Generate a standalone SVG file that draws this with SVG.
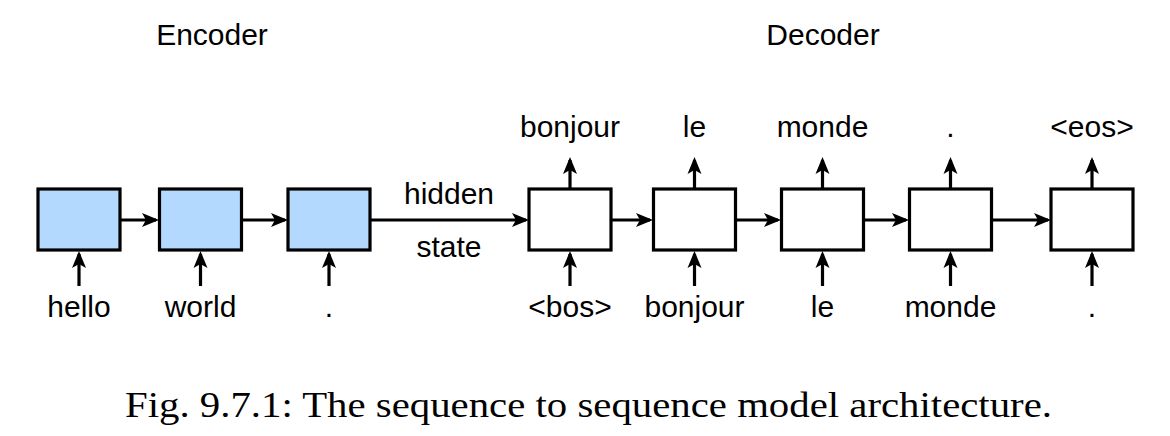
<svg xmlns="http://www.w3.org/2000/svg" width="1170" height="436" viewBox="0 0 1170 436">
<style>
.box{stroke:#000;stroke-width:3.2}
.enc{fill:#b3d9ff}
.dec{fill:#fff}
.lbl{font-family:"Liberation Sans",Arial,sans-serif;font-size:30px;fill:#000;text-anchor:middle}
.cap{font-family:"Liberation Serif","DejaVu Serif",serif;font-size:36px;fill:#000}
.edge{stroke:#000;stroke-width:3.2;fill:none;marker-end:url(#ah)}
</style>
<defs>
<marker id="ah" markerUnits="userSpaceOnUse" markerWidth="22" markerHeight="18" viewBox="-20 -9 22 18" refX="-3" refY="0" orient="auto">
<path d="M0,0 L-17,-7 L-13,0 L-17,7 Z" fill="#000"/>
</marker>
</defs>
<rect width="1170" height="436" fill="#fff"/>
<text class="lbl" x="212" y="45">Encoder</text>
<text class="lbl" x="823" y="45">Decoder</text>
<g id="connectors">
<line class="edge" x1="120" y1="220" x2="156" y2="220"/>
<line class="edge" x1="242" y1="220" x2="285" y2="220"/>
<line class="edge" x1="370" y1="220" x2="526" y2="220"/>
<line class="edge" x1="611" y1="220" x2="650" y2="220"/>
<line class="edge" x1="736" y1="220" x2="778" y2="220"/>
<line class="edge" x1="864" y1="220" x2="906" y2="220"/>
<line class="edge" x1="992" y1="220" x2="1048" y2="220"/>
<line class="edge" x1="79" y1="286" x2="79" y2="254"/>
<line class="edge" x1="200.5" y1="286" x2="200.5" y2="254"/>
<line class="edge" x1="329" y1="286" x2="329" y2="254"/>
<line class="edge" x1="570" y1="286" x2="570" y2="254"/>
<line class="edge" x1="694.5" y1="286" x2="694.5" y2="254"/>
<line class="edge" x1="822.5" y1="286" x2="822.5" y2="254"/>
<line class="edge" x1="950.5" y1="286" x2="950.5" y2="254"/>
<line class="edge" x1="1092" y1="286" x2="1092" y2="254"/>
<line class="edge" x1="570" y1="189" x2="570" y2="160"/>
<line class="edge" x1="694.5" y1="189" x2="694.5" y2="160"/>
<line class="edge" x1="822.5" y1="189" x2="822.5" y2="160"/>
<line class="edge" x1="950.5" y1="189" x2="950.5" y2="160"/>
<line class="edge" x1="1092" y1="189" x2="1092" y2="160"/>
</g>
<text class="lbl" x="449" y="204">hidden</text>
<text class="lbl" x="449" y="257">state</text>
<g id="enc1"><rect class="box enc" x="38" y="189" width="82" height="61"/><text class="lbl" x="79" y="317">hello</text></g>
<g id="enc2"><rect class="box enc" x="159.5" y="189" width="82" height="61"/><text class="lbl" x="200.5" y="317">world</text></g>
<g id="enc3"><rect class="box enc" x="288" y="189" width="82" height="61"/><text class="lbl" x="329" y="317">.</text></g>
<g id="dec1"><rect class="box dec" x="529" y="189" width="82" height="61"/><text class="lbl" x="570" y="137">bonjour</text><text class="lbl" x="570" y="317">&lt;bos&gt;</text></g>
<g id="dec2"><rect class="box dec" x="653.5" y="189" width="82" height="61"/><text class="lbl" x="694.5" y="137">le</text><text class="lbl" x="694.5" y="317">bonjour</text></g>
<g id="dec3"><rect class="box dec" x="781.5" y="189" width="82" height="61"/><text class="lbl" x="822.5" y="137">monde</text><text class="lbl" x="822.5" y="317">le</text></g>
<g id="dec4"><rect class="box dec" x="909.5" y="189" width="82" height="61"/><text class="lbl" x="950.5" y="137">.</text><text class="lbl" x="950.5" y="317">monde</text></g>
<g id="dec5"><rect class="box dec" x="1051" y="189" width="82" height="61"/><text class="lbl" x="1092" y="137">&lt;eos&gt;</text><text class="lbl" x="1092" y="317">.</text></g>
<text class="cap" x="125" y="417" textLength="927" lengthAdjust="spacingAndGlyphs">Fig. 9.7.1: The sequence to sequence model architecture.</text>
</svg>
